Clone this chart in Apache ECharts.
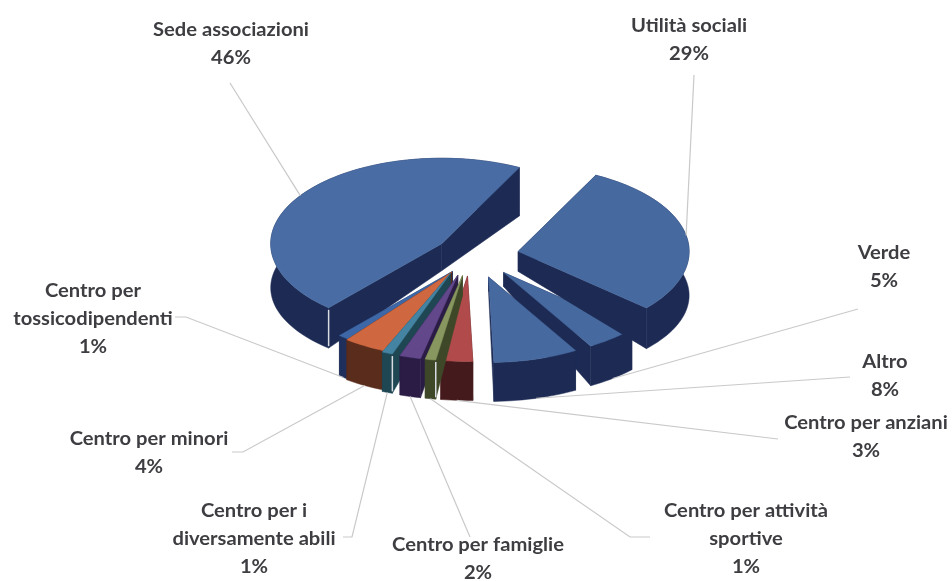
<!DOCTYPE html>
<html>
<head>
<meta charset="utf-8">
<style>
  html, body { margin: 0; padding: 0; background: #fff; }
  #chart { width: 952px; height: 581px; }
</style>
<script src="https://cdn.jsdelivr.net/npm/echarts@6/dist/echarts.min.js"></script>
</head>
<body>
<div id="chart"></div>
<script>
const categories = ["Utilità sociali", "Verde", "Altro", "Centro per anziani", "Centro per attività\nsportive", "Centro per famiglie", "Centro per i\ndiversamente abili", "Centro per minori", "Centro per\ntossicodipendenti", "Sede associazioni"];
const values = [29, 5, 8, 3, 1, 2, 1, 4, 1, 46];

// styles and layout, same order as categories
const topColors = ["#46699f", "#46699f", "#46699f", "#b04a4b", "#87975f", "#62478b", "#4583a3", "#cf6840", "#3d67a6", "#486ca3"];
const sideColors = ["#1d2b54", "#1d2b54", "#1d2b54", "#451a1c", "#3e4829", "#2b1c46", "#1f4753", "#5a2c1c", "#1e2f5b", "#1d2b54"];
const explode = [49, 48, 52, 40, 40, 40, 40, 40, 40, 33];
const nudge = [[0, 0], [3, -2], [4, -4], [0, 0], [0, 0], [-1, 0], [-5, -1], [2, -1], [8, 0], [-1, -3]];
const apexDrop = [20, 14, 14, 20, 20, 20, 20, 20, 20, 27];
const drawOrder = [1, 2, 3, 9, 8, 7, 6, 5, 4, 0];
const hasGlint = [0, 0, 0, 0, 1, 0, 1, 1, 0, 1];
const labelPos = [[689, 40], [884, 267], [885, 376], [866, 437], [746, 539], [478, 559], [254, 539], [149, 453], [93, 319], [231, 44]];
const leaderStart = [[[694, 75]], [[858, 309]], [[850, 377]], [[778, 439]], [[650, 537], [630, 537]], [[470, 537]], [[343, 537], [352, 537]], [[232, 452], [243, 452]], [[175, 317], [186, 317]], [[230, 83]]];

const center = [470, 256];
const radius = 171;
const squash = 0.5;
const startAngle = 27;
const total = values.reduce((a, b) => a + b, 0);
const labelFont = "bold 18px Lato";
const labelStretch = 1.12;

const rad = (d) => (d * Math.PI) / 180;
const depthAt = (t) => 44 + 5 * Math.cos(rad(t));

function sliceAngles(i) {
  let sum = 0;
  for (let k = 0; k < i; k++) sum += values[k];
  const t0 = startAngle + (sum / total) * 360;
  return [t0, t0 + (values[i] / total) * 360];
}

function renderSlice(params, api) {
  const i = params.dataIndex;
  const [t0, t1] = sliceAngles(i);
  const mid = (t0 + t1) / 2;
  const apex = [
    center[0] + nudge[i][0] + explode[i] * Math.sin(rad(mid)),
    center[1] + nudge[i][1] - explode[i] * Math.cos(rad(mid)) * squash,
  ];
  const rim = (t, drop) => [
    apex[0] + radius * Math.sin(rad(t)),
    apex[1] - radius * Math.cos(rad(t)) * squash + (drop ? depthAt(t) : 0),
  ];

  const arcTop = [];
  const arcBottom = [];
  const steps = Math.max(2, Math.ceil((t1 - t0) / 2));
  for (let s = 0; s <= steps; s++) {
    const t = t0 + ((t1 - t0) * s) / steps;
    arcTop.push(rim(t, false));
    arcBottom.push(rim(t, true));
  }

  const apexBottom = [apex[0], apex[1] + apexDrop[i]];
  const order = drawOrder.indexOf(i) * 10;
  const poly = (points, fill, z) => ({
    type: "polygon",
    z2: order + z,
    shape: { points },
    style: { fill, stroke: fill, lineWidth: 0.5 },
  });

  const children = [
    poly([apex, rim(t0, false), rim(t0, true), apexBottom], sideColors[i], 1),
    poly([apex, rim(t1, false), rim(t1, true), apexBottom], sideColors[i], 1),
    poly(arcTop.concat(arcBottom.slice().reverse()), sideColors[i], 2),
    poly([apex].concat(arcTop), topColors[i], 3),
  ];

  if (hasGlint[i]) {
    const a = rim(t0, false);
    const b = rim(t0, true);
    children.push({
      type: "line",
      z2: order + 4,
      shape: { x1: a[0], y1: a[1] + 2, x2: b[0], y2: b[1] - 2 },
      style: { stroke: "#d8dce2", lineWidth: 1.5 },
    });
  }

  // leader goes to the rim at the slice middle, top edge for the back slices
  const back = Math.cos(rad(mid)) > -0.2;
  const leader = leaderStart[i].concat([rim(mid, !back)]);
  children.push({
    type: "polyline",
    z2: 200,
    shape: { points: leader },
    style: { fill: "none", stroke: "#c9c9c9", lineWidth: 1.2 },
  });
  children.push({
    type: "text",
    z2: 300,
    x: labelPos[i][0],
    y: labelPos[i][1],
    scaleX: labelStretch,
    style: {
      text: categories[i] + "\n" + values[i] + "%",
      align: "center",
      verticalAlign: "middle",
      lineHeight: 28,
      font: labelFont,
      fill: "#3e3e42",
    },
  });

  return { type: "group", children };
}

const myChart = echarts.init(document.getElementById("chart"));
myChart.setOption({
  animation: false,
  backgroundColor: "#fff",
  series: [
    {
      type: "custom",
      coordinateSystem: "none",
      renderItem: renderSlice,
      data: values.map((v) => [v]),
      silent: true,
    },
  ],
});
</script>
</body>
</html>
